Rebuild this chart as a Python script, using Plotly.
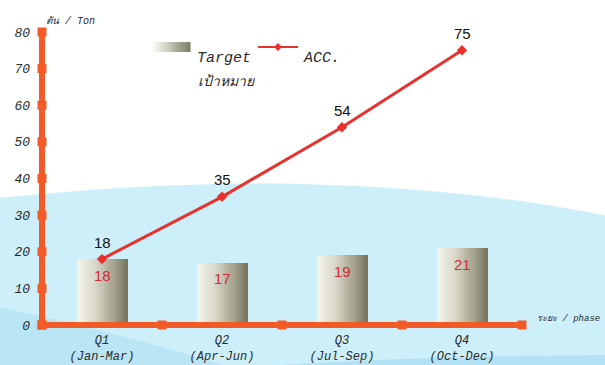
import plotly.graph_objects as go

# ---- data ----
quarters = ["Q1", "Q2", "Q3", "Q4"]
months = ["(Jan-Mar)", "(Apr-Jun)", "(Jul-Sep)", "(Oct-Dec)"]
target = [18, 17, 19, 21]
acc = [18, 35, 54, 75]
y_ticks = [0, 10, 20, 30, 40, 50, 60, 70, 80]

# ---- figure geometry (pixels) ----
W, H = 605, 365
L, R, T, B = 42, 83, 32, 40
PW, PH = W - L - R, H - T - B

ORANGE = "#F25A28"
RED = "#E8322E"
LABEL_RED = "#D22C3A"
HAND = dict(family="Liberation Mono, DejaVu Sans Mono, monospace", style="italic", color="#2a2a2a")


def px(x, y):
    """pixel position -> paper coordinates"""
    return (x - L) / PW, (H - B - y) / PH


def path(segments):
    """segments: list of (command, [points]); each L point gets its own command"""
    parts = []
    for cmd, pts in segments:
        if cmd == "L":
            for a, b in pts:
                parts.append("L %.5f,%.5f" % px(a, b))
        else:
            coords = " ".join("%.5f,%.5f" % px(a, b) for a, b in pts)
            parts.append(cmd + " " + coords)
    return " ".join(parts) + " Z"


xs = list(range(len(quarters)))
bar_w = 0.42


def lerp_color(stops, t):
    for (t0, c0), (t1, c1) in zip(stops, stops[1:]):
        if t0 <= t <= t1:
            f = (t - t0) / (t1 - t0) if t1 > t0 else 0
            return "rgb(%d,%d,%d)" % tuple(round(a + (b - a) * f) for a, b in zip(c0, c1))
    return "rgb(%d,%d,%d)" % stops[-1][1]


grad = [
    (0.0, (247, 246, 238)),
    (0.35, (218, 216, 202)),
    (0.7, (170, 168, 146)),
    (1.0, (116, 116, 94)),
]

fig = go.Figure()

# gradient-shaded target bars, built from thin vertical strips
N = 24
for i in range(N):
    t = (i + 0.5) / N
    fig.add_trace(go.Bar(
        x=xs, y=target,
        width=bar_w / N * 1.15,
        offset=-bar_w / 2 + i * bar_w / N,
        marker=dict(color=lerp_color(grad, t), line=dict(width=0)),
        showlegend=False, hoverinfo="skip",
    ))

# accumulated line
fig.add_trace(go.Scatter(
    x=xs, y=acc, mode="lines+markers",
    line=dict(color=RED, width=3),
    marker=dict(symbol="diamond", size=8, color=RED),
    showlegend=False, cliponaxis=False,
))

# square tick markers on both axes
fig.add_trace(go.Scatter(
    x=[-0.5] * len(y_ticks), y=y_ticks, mode="markers",
    marker=dict(symbol="square", size=9, color=ORANGE),
    showlegend=False, cliponaxis=False, hoverinfo="skip",
))
fig.add_trace(go.Scatter(
    x=[i - 0.5 for i in range(len(quarters) + 1)], y=[0] * (len(quarters) + 1), mode="markers",
    marker=dict(symbol="square", size=9, color=ORANGE),
    showlegend=False, cliponaxis=False, hoverinfo="skip",
))

annotations = []
for x, v in zip(xs, acc):
    annotations.append(dict(x=x, y=v, text=str(v), showarrow=False, yshift=17,
                            font=dict(family="Liberation Sans, Arial", size=15, color="#111")))
for x, v in zip(xs, target):
    annotations.append(dict(x=x, y=v, text=str(v), showarrow=False, yshift=-16,
                            font=dict(family="Liberation Sans, Arial", size=15, color=LABEL_RED)))

# axis titles and legend texts
ax, ay = px(44, 14)
annotations.append(dict(xref="paper", yref="paper", x=ax, y=ay, text="ตัน / Ton", showarrow=False,
                        xanchor="left", font=dict(HAND, size=10)))
ax, ay = px(535, 326)
annotations.append(dict(xref="paper", yref="paper", x=ax, y=ay, text="ระยะ / phase", showarrow=False,
                        xanchor="left", font=dict(HAND, size=9)))
ax, ay = px(195, 48)
annotations.append(dict(xref="paper", yref="paper", x=ax, y=ay, text="Target", showarrow=False,
                        xanchor="left", font=dict(HAND, size=15)))
ax, ay = px(301, 48)
annotations.append(dict(xref="paper", yref="paper", x=ax, y=ay, text="ACC.", showarrow=False,
                        xanchor="left", font=dict(HAND, size=15)))
ax, ay = px(196, 72)
annotations.append(dict(xref="paper", yref="paper", x=ax, y=ay, text="เป้าหมาย", showarrow=False,
                        xanchor="left", font=dict(HAND, size=14)))

shapes = []
# background waves
shapes.append(dict(type="path", xref="paper", yref="paper", layer="below", line=dict(width=0),
                   fillcolor="#CDEFFA",
                   path=path([("M", [(-2, 198)]),
                              ("C", [(100, 188), (200, 182), (300, 184)]),
                              ("C", [(420, 187), (520, 198), (607, 216)]),
                              ("L", [(607, 367), (-2, 367)])])))
shapes.append(dict(type="path", xref="paper", yref="paper", layer="below", line=dict(width=0),
                   fillcolor="#B9E5F4",
                   path=path([("M", [(-2, 307)]),
                              ("C", [(70, 322), (160, 345), (230, 367)]),
                              ("L", [(-2, 367)])])))
shapes.append(dict(type="path", xref="paper", yref="paper", layer="below", line=dict(width=0),
                   fillcolor="#B2E2F3",
                   path=path([("M", [(250, 367)]),
                              ("C", [(380, 358), (500, 356), (607, 355)]),
                              ("L", [(607, 367)])])))

# axis lines
shapes.append(dict(type="line", xref="paper", yref="paper", x0=0, x1=0, y0=0, y1=1,
                   line=dict(color=ORANGE, width=6), layer="above"))
shapes.append(dict(type="line", xref="paper", yref="paper", x0=0, x1=1, y0=0, y1=0,
                   line=dict(color=ORANGE, width=6), layer="above"))

# legend glyphs: gradient swatch and line/diamond sample
sx0, sx1, sy0, sy1 = 152, 190, 42, 52
legend_grad = [(0.0, (255, 255, 255)), (0.45, (200, 198, 182)), (1.0, (122, 122, 100))]
M = 20
for i in range(M):
    a = sx0 + (sx1 - sx0) * i / M
    b = sx0 + (sx1 - sx0) * (i + 1) / M + 0.5
    x0p, y0p = px(a, sy1)
    x1p, y1p = px(b, sy0)
    shapes.append(dict(type="rect", xref="paper", yref="paper", x0=x0p, x1=x1p, y0=y0p, y1=y1p,
                       line=dict(width=0), fillcolor=lerp_color(legend_grad, (i + 0.5) / M)))
lx0, ly = px(258, 47)
lx1, _ = px(298, 47)
shapes.append(dict(type="line", xref="paper", yref="paper", x0=lx0, x1=lx1, y0=ly, y1=ly,
                   line=dict(color=RED, width=2)))
shapes.append(dict(type="path", xref="paper", yref="paper", fillcolor=RED, line=dict(width=0),
                   path=path([("M", [(278, 43)]), ("L", [(282, 47), (278, 51), (274, 47)])])))

fig.update_layout(
    width=W, height=H,
    margin=dict(l=L, r=R, t=T, b=B, pad=0, autoexpand=False),
    paper_bgcolor="white",
    plot_bgcolor="rgba(0,0,0,0)",
    barmode="overlay",
    bargap=0,
    annotations=annotations,
    shapes=shapes,
    xaxis=dict(range=[-0.5, 3.5], tickvals=xs,
               ticktext=["%s<br>%s" % (q, m) for q, m in zip(quarters, months)],
               showgrid=False, zeroline=False, showline=False, ticks="",
               automargin=False, ticklabelstandoff=6,
               tickfont=dict(HAND, size=12), fixedrange=True),
    yaxis=dict(range=[0, 80], tickvals=y_ticks, showgrid=False, zeroline=False,
               showline=False, ticks="", ticklabelstandoff=11, automargin=False,
               tickfont=dict(HAND, size=13), fixedrange=True),
)

fig.write_html("out.html")
